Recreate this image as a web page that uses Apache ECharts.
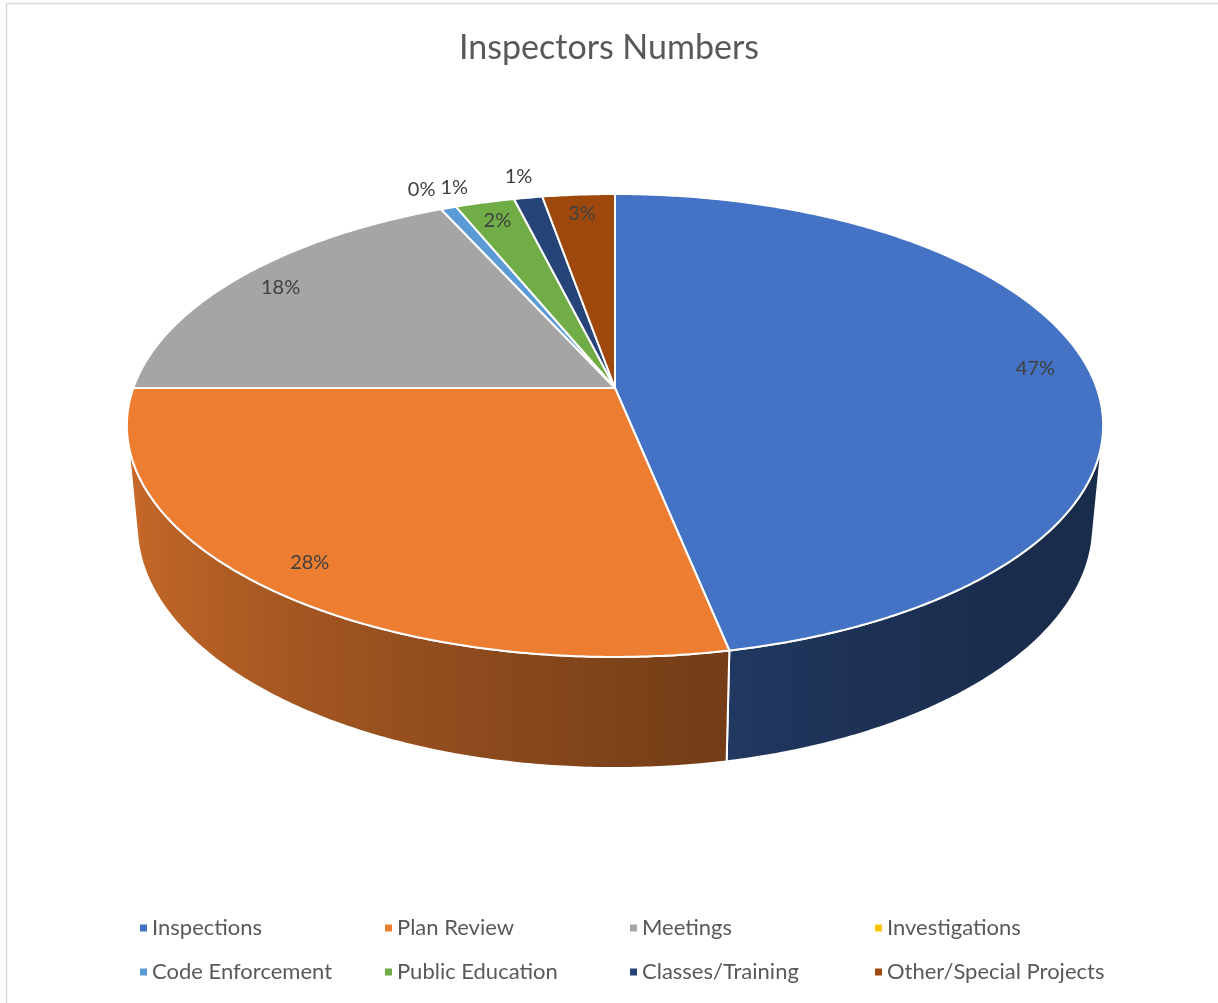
<!DOCTYPE html>
<html>
<head>
<meta charset="utf-8">
<title>Inspectors Numbers</title>
<script src="https://cdn.jsdelivr.net/npm/echarts@6/dist/echarts.min.js"></script>
<style>
  html, body { margin: 0; padding: 0; background: #ffffff; }
  #chart { width: 1218px; height: 1003px; }
</style>
</head>
<body>
<div id="chart"></div>
<script>
// Share of inspector time by activity (percent)
const categories = ['Inspections', 'Plan Review', 'Meetings', 'Investigations',
  'Code Enforcement', 'Public Education', 'Classes/Training', 'Other/Special Projects'];
const shares = [46.8, 28.2, 18.2, 0, 0.6, 2.3, 1.1, 2.8];
const colors = ['#4472C4', '#ED7D31', '#A5A5A5', '#FFC000', '#5B9BD5', '#70AD47', '#264478', '#9E480E'];

// Perspective view of the tilted disc
const CX = 615, CY = 388;
const TILT = 27.9 * Math.PI / 180;
const DIST = 5.46, FOCAL = 2630, THICK = 0.237;
const cosT = Math.cos(TILT), sinT = Math.sin(TILT);
const FONT = 'Lato, "Open Sans", sans-serif';
const LABEL_SIZE = 20;

function project(r, deg, z) {
  const a = deg * Math.PI / 180;
  const X = r * Math.cos(a), Y = r * Math.sin(a);
  const depth = DIST + Y * cosT - z * sinT;
  return [CX + FOCAL * X / depth, CY - FOCAL * (Y * sinT + z * cosT) / depth];
}

function arc(from, to, z) {
  const n = Math.max(1, Math.ceil(Math.abs(to - from) / 0.5));
  const pts = [];
  for (let k = 0; k <= n; k++) pts.push(project(1, from + (to - from) * k / n, z));
  return pts;
}

// Side wall lighting: light comes from the upper left
function lightAt(deg) {
  const a = deg * Math.PI / 180;
  return 0.649 - 0.24 * Math.cos(a) + 0.116 * Math.sin(a);
}
function shade(hex, f) {
  const v = parseInt(hex.slice(1), 16);
  const r = Math.round(((v >> 16) & 255) * f);
  const g = Math.round(((v >> 8) & 255) * f);
  const b = Math.round((v & 255) * f);
  return 'rgb(' + r + ',' + g + ',' + b + ')';
}

// Slice angles: clockwise from 12 o'clock
const total = shares.reduce((s, v) => s + v, 0);
const slices = [];
let acc = 0;
shares.forEach((v, i) => {
  const start = 90 - 360 * acc / total;
  acc += v;
  const end = 90 - 360 * acc / total;
  slices.push({ start, end, pct: 100 * v / total });
});

// The outer wall faces the viewer only over this angular range
const EDGE = Math.asin(1 / (DIST * cosT)) * 180 / Math.PI;
const WALL_LO = -180 + EDGE, WALL_HI = -EDGE;

// Data label placement
const measureCtx = document.createElement('canvas').getContext('2d');
measureCtx.font = LABEL_SIZE + 'px ' + FONT;
const labels = slices.map((s, i) => {
  const mid = (s.start + s.end) / 2;
  const outside = s.pct < 1.5;
  const p = project(outside ? 1.13 : 0.89, mid, 0);
  const text = Math.round(s.pct) + '%';
  return { x: p[0], y: p[1], text, outside, w: measureCtx.measureText(text).width };
});
let prev = null;
labels.forEach(l => {
  if (!l.outside) return;
  if (prev && Math.abs(l.x - prev.x) < (l.w + prev.w) / 2 + 5 && Math.abs(l.y - prev.y) < 20) {
    l.x = prev.x + (l.w + prev.w) / 2 + 5;
  }
  prev = l;
});

function makeRender(i) {
  return function (params, api) {
    const s = slices[i];
    const color = api.visual('color');
    const children = [];

    // outer side wall
    const a = Math.max(s.end, WALL_LO), b = Math.min(s.start, WALL_HI);
    if (b > a) {
      const top = arc(a, b, 0);
      const bottom = arc(b, a, -THICK);
      const x0 = top[0][0], x1 = top[top.length - 1][0];
      const stops = [];
      const n = 12;
      for (let k = 0; k <= n; k++) {
        const d = a + (b - a) * k / n;
        const x = project(1, d, 0)[0];
        stops.push({ offset: Math.min(1, Math.max(0, (x - x0) / (x1 - x0))), color: shade(color, lightAt(d)) });
      }
      children.push({
        type: 'polygon',
        shape: { points: top.concat(bottom) },
        style: {
          fill: new echarts.graphic.LinearGradient(x0, 0, x1, 0, stops, true),
          stroke: '#ffffff', lineWidth: 2, lineJoin: 'round'
        },
        z2: 1
      });
    }

    // top face
    if (api.value(0) > 0) {
      children.push({
        type: 'polygon',
        shape: { points: [[CX, CY]].concat(arc(s.start, s.end, 0)) },
        style: { fill: color, stroke: '#ffffff', lineWidth: 2, lineJoin: 'round' },
        z2: 2
      });
    }

    // value label
    const l = labels[i];
    children.push({
      type: 'text',
      style: {
        text: l.text, x: l.x, y: l.y, align: 'center', verticalAlign: 'middle',
        fill: '#404040', fontSize: LABEL_SIZE, fontFamily: FONT
      },
      z2: 5
    });
    return { type: 'group', children };
  };
}

const chart = echarts.init(document.getElementById('chart'), null, { renderer: 'canvas' });
chart.setOption({
  animation: false,
  color: colors,
  title: {
    text: 'Inspectors Numbers',
    left: 'center',
    top: 26,
    textStyle: { fontFamily: FONT, fontSize: 34, fontWeight: 'normal', color: '#595959' }
  },
  legend: {
    left: 140,
    top: 906,
    width: 1000,
    padding: 0,
    icon: 'rect',
    itemWidth: 7,
    itemHeight: 7,
    itemGap: 0,
    selectedMode: false,
    data: categories,
    textStyle: { fontFamily: FONT, fontSize: 22, color: '#595959', width: 233, lineHeight: 44 }
  },
  graphic: [{
    type: 'rect',
    shape: { x: 6.5, y: 3.5, width: 1300, height: 1100 },
    style: { fill: 'none', stroke: '#D9D9D9', lineWidth: 1.5 },
    silent: true
  }],
  series: categories.map((name, i) => ({
    type: 'custom',
    name,
    coordinateSystem: 'none',
    renderItem: makeRender(i),
    data: [[shares[i]]]
  }))
});
</script>
</body>
</html>
